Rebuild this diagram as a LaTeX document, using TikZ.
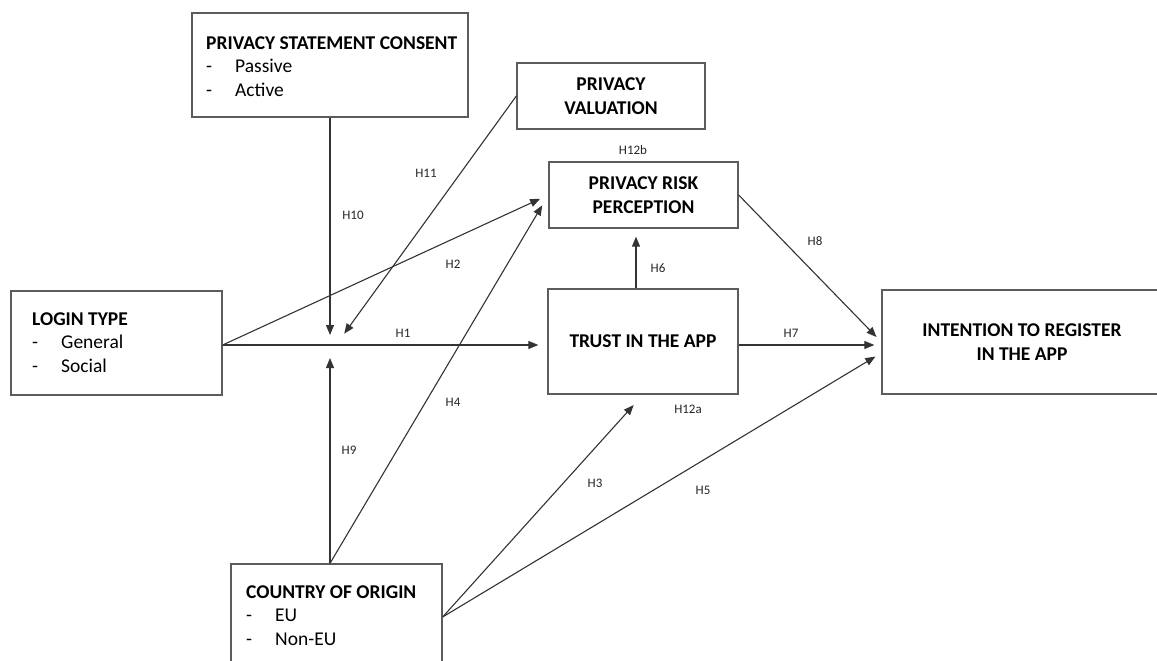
\documentclass[tikz,border=0pt]{standalone}
\usepackage{fontspec}
\setmainfont{Carlito}
\usetikzlibrary{arrows.meta}
\definecolor{boxgray}{HTML}{5C5C5C}
\definecolor{linegray}{HTML}{333333}
\begin{document}
\begin{tikzpicture}[x=1pt,y=-1pt,
  box/.style={draw=boxgray, line width=1.3pt, inner sep=0pt, align=center,
    font=\bfseries\fontsize{19.5}{23.5}\selectfont, text=black},
  listtxt/.style={inner sep=0pt, align=left, anchor=base west,
    font=\fontsize{19.5}{23.5}\selectfont, text=black},
  conn/.style={draw=linegray, line width=1.1pt},
  arr/.style={conn, -{Triangle[length=10pt,width=8pt]}, shorten >=9pt},
  hyp/.style={inner sep=0pt, font=\fontsize{13}{15}\selectfont, text=black!85}]
\useasboundingbox (0,0) rectangle (1157,661);
\fill[white] (0,0) rectangle (1157,661);

% boxes
\node[box, minimum width=276pt, minimum height=104pt] (psc) at (330,65) {};
\node[box, minimum width=188pt, minimum height=66pt] (pv) at (611,96) {\raisebox{-2pt}{PRIVACY}\\\raisebox{-2pt}{VALUATION}};
\node[box, minimum width=189pt, minimum height=66pt] (prp) at (643.5,195) {\raisebox{-2pt}{PRIVACY RISK}\\\raisebox{-2pt}{PERCEPTION}};
\node[box, minimum width=211pt, minimum height=104pt] (login) at (116.5,343) {};
\node[box, minimum width=190pt, minimum height=105pt] (trust) at (643,341.5) {\raisebox{-2pt}{TRUST IN THE APP}};
\node[box, minimum width=280pt, minimum height=104pt] (int) at (1022,342) {INTENTION TO REGISTER\\IN THE APP};
\node[box, minimum width=211pt, minimum height=116pt] (country) at (336.5,622) {};

% list texts (anchored at the baseline of the last line)
\node[listtxt] (psct) at (206,96) {\textbf{PRIVACY STATEMENT CONSENT}\\\makebox[29pt][l]{-}Passive\\\makebox[29pt][l]{-}Active};
\node[listtxt] (logint) at (32,372) {\textbf{LOGIN TYPE}\\\makebox[29pt][l]{-}General\\\makebox[29pt][l]{-}Social};
\node[listtxt] (countryt) at (246,645) {\textbf{COUNTRY OF ORIGIN}\\\makebox[29pt][l]{-}EU\\\makebox[29pt][l]{-}Non-EU};

% helper coordinates
\coordinate (hl) at (0,345);
\coordinate (jn) at (330,345);
\coordinate (v6) at (636,0);
\coordinate (cy) at (0,617);

% connectors
\draw[arr] (login.east |- hl) -- (trust.west |- hl);
\draw[arr, shorten >=7pt] (trust.east |- hl) -- (int.west |- hl);
\draw[arr] (login.east |- hl) -- (prp.west);
\draw[arr, shorten >=12pt] (country.north -| jn) -- (prp.west);
\draw[arr, shorten >=10pt] (psc.south -| jn) -- (jn);
\draw[arr, shorten >=13pt] (country.north -| jn) -- (jn);
\draw[arr, shorten >=14pt] (pv.west) -- ([xshift=6pt]jn);
\draw[arr, shorten >=8pt] (trust.north -| v6) -- (prp.south -| v6);
\draw[arr, shorten >=7pt] (prp.east) -- (int.west);
\draw[arr, shorten >=7pt] (country.east |- cy) -- ([yshift=-11pt]int.west);
\draw[arr, shorten >=14pt] (country.east |- cy) -- (trust.south);

% hypothesis labels
\node[hyp] (h10) at (353,215) {H10};
\node[hyp] (h11) at (426,173) {H11};
\node[hyp] (h12b) at (633,150) {H12b};
\node[hyp] (h2) at (453,264) {H2};
\node[hyp] (h1) at (403,333) {H1};
\node[hyp] (h6) at (658,268) {H6};
\node[hyp] (h8) at (815,241) {H8};
\node[hyp] (h7) at (791,333) {H7};
\node[hyp] (h4) at (453,402) {H4};
\node[hyp] (h9) at (349,450) {H9};
\node[hyp] (h3) at (595,483) {H3};
\node[hyp] (h12a) at (688,409) {H12a};
\node[hyp] (h5) at (703,490) {H5};
\end{tikzpicture}
\end{document}
